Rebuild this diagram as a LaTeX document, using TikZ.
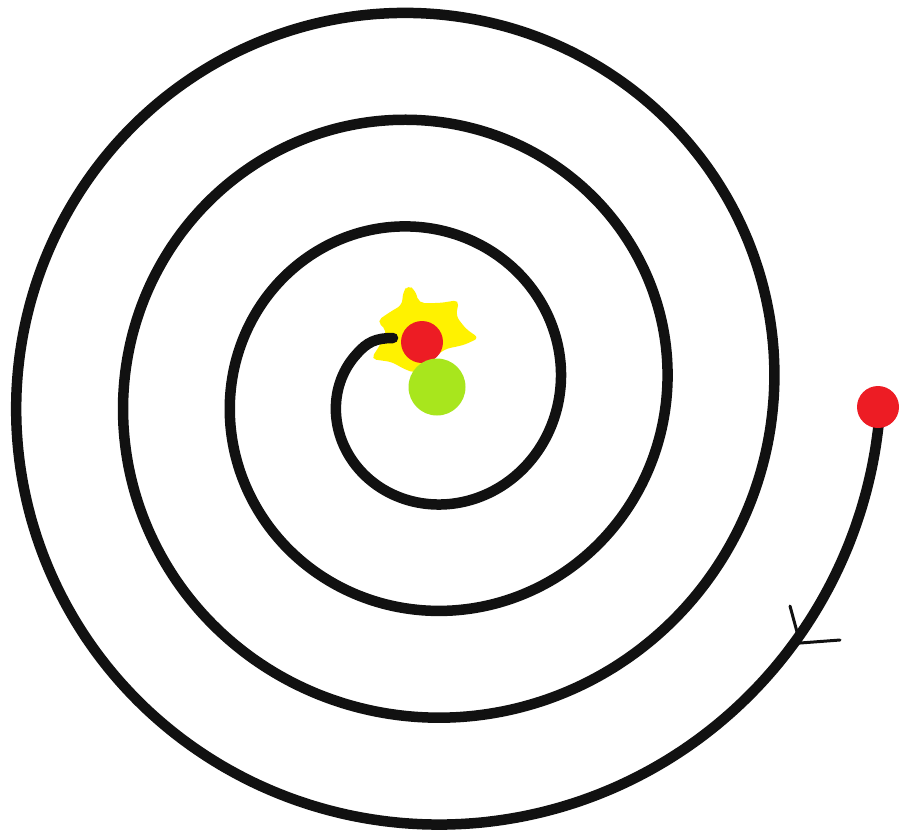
\documentclass[tikz,border=0pt]{standalone}
\definecolor{pred}{HTML}{ED1C24}
\definecolor{pyellow}{HTML}{FFF200}
\definecolor{pgreen}{HTML}{A8E61D}
\definecolor{pblack}{HTML}{111111}
\tikzset{
  spiralline/.style={draw=pblack, line width=0.21cm, line cap=round, line join=round},
  barb/.style={draw=pblack, line width=0.06cm, line cap=round},
  dot/.style={circle, fill=pred, inner sep=0pt, minimum size=0.84cm},
  gdot/.style={circle, fill=pgreen, inner sep=0pt, minimum size=1.14cm}
}
\begin{document}
\begin{tikzpicture}[x=0.02cm,y=-0.02cm]
\useasboundingbox[fill=white] (0,0) rectangle (902,833);
% yellow blob
\fill[pyellow, rounded corners=3pt] (408,285) -- (415,290) -- (419,303) -- (440,303) -- (459,300) -- (456,316) -- (466,329) -- (479,338) -- (464,345) -- (445,349) -- (430,361) -- (415,373) -- (404,369) -- (392,362) -- (371,359) -- (380,345) -- (387,331) -- (377,321) -- (390,312) -- (402,305) -- (403,292) -- cycle;
% spiral
\coordinate (innerend) at (393,338);
\draw[spiralline] plot[domain=2:1290, samples=500, smooth] ({422+(459-0.297222*\x)*cos(\x)}, {392+(459-0.297222*\x)*sin(\x)}) .. controls (367,342) and (376,338) .. (innerend);
% arrow head
\coordinate (tip) at (800,643);
\coordinate (b1) at (790,606);
\coordinate (b2) at (840,640);
\draw[barb] (b1) -- (tip) -- (b2);
% dots
\node[dot] (start) at (878,407) {};
\node[dot] (centre) at (422,342) {};
\node[gdot] (sun) at (437,387) {};
\end{tikzpicture}
\end{document}
